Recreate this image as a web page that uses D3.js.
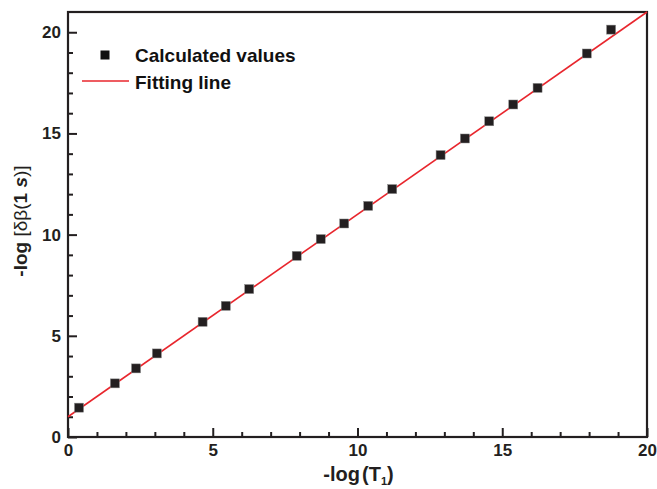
<!DOCTYPE html>
<html>
<head>
<meta charset="utf-8">
<script src="https://cdn.jsdelivr.net/npm/d3@7"></script>
<style>
  body { margin: 0; background: #fff; }
  text { font-family: "Liberation Sans", Arial, sans-serif; }
</style>
</head>
<body>
<script>
// calculated values
var calcX = [0.38, 1.62, 2.35, 3.07, 4.65, 5.45, 6.26, 7.90, 8.73, 9.54, 10.37, 11.20, 12.87, 13.71, 14.55, 15.38, 16.22, 17.92, 18.76];
var calcY = [1.45, 2.65, 3.39, 4.13, 5.69, 6.48, 7.31, 8.95, 9.78, 10.55, 11.42, 12.25, 13.93, 14.75, 15.60, 16.43, 17.25, 18.95, 20.13];

// fitting line end points
var fitX = [0, 20];
var fitY = [1.0, 21.0];

var xTicks = [0, 5, 10, 15, 20];
var yTicks = [0, 5, 10, 15, 20];

var width = 657, height = 489;
var margin = {top: 12, right: 10, bottom: 52, left: 68};

var svg = d3.select("body").append("svg")
    .attr("width", width)
    .attr("height", height);

var x = d3.scaleLinear().domain([0, 20]).range([margin.left, width - margin.right]);
var y = d3.scaleLinear().domain([0, 21]).range([height - margin.bottom, margin.top]);

var axisColor = "#231f20";

// minor ticks (inward)
var minorX = d3.range(0, 21, 1).filter(function(d) { return d % 5 != 0; });
var minorY = d3.range(0, 21, 1).filter(function(d) { return d % 5 != 0; });

var xAxis = d3.axisBottom(x).tickValues(xTicks).tickSize(-9).tickPadding(7).tickFormat(d3.format("d"));
var xMinor = d3.axisBottom(x).tickValues(minorX).tickSize(-5).tickFormat("");
var yAxis = d3.axisLeft(y).tickValues(yTicks).tickSize(-9).tickPadding(7).tickFormat(d3.format("d"));
var yMinor = d3.axisLeft(y).tickValues(minorY).tickSize(-5).tickFormat("");

function styleAxis(g) {
  g.select(".domain").remove();
  g.selectAll(".tick line").attr("stroke", axisColor).attr("stroke-width", 2);
  g.selectAll(".tick text")
    .attr("fill", axisColor)
    .style("font-size", "17px")
    .style("font-weight", "bold");
}

svg.append("g").attr("transform", "translate(0," + y(0) + ")").call(xMinor).call(styleAxis);
svg.append("g").attr("transform", "translate(0," + y(0) + ")").call(xAxis).call(styleAxis);
svg.append("g").attr("transform", "translate(" + x(0) + ",0)").call(yMinor).call(styleAxis);
svg.append("g").attr("transform", "translate(" + x(0) + ",0)").call(yAxis).call(styleAxis);

// frame
svg.append("rect")
    .attr("x", x(0))
    .attr("y", y(21))
    .attr("width", x(20) - x(0))
    .attr("height", y(0) - y(21))
    .attr("fill", "none")
    .attr("stroke", axisColor)
    .attr("stroke-width", 2.2);

// fitting line
var line = d3.line()
    .x(function(d) { return x(d[0]); })
    .y(function(d) { return y(d[1]); });

svg.append("path")
    .datum(d3.zip(fitX, fitY))
    .attr("d", line)
    .attr("fill", "none")
    .attr("stroke", "#e8262d")
    .attr("stroke-width", 1.6);

// calculated points
var ms = 9;
svg.append("g")
    .selectAll("rect")
    .data(d3.zip(calcX, calcY))
    .enter()
    .append("rect")
    .attr("x", function(d) { return x(d[0]) - ms / 2; })
    .attr("y", function(d) { return y(d[1]) - ms / 2; })
    .attr("width", ms)
    .attr("height", ms)
    .attr("fill", "#231f20")
    .attr("stroke", "#888")
    .attr("stroke-width", 0.5);

// legend
var legend = svg.append("g");
legend.append("rect")
    .attr("x", 105 - ms / 2)
    .attr("y", 55 - ms / 2)
    .attr("width", ms)
    .attr("height", ms)
    .attr("fill", "#111");
legend.append("text")
    .attr("x", 135)
    .attr("y", 62)
    .style("font-size", "19px")
    .style("font-weight", "bold")
    .attr("fill", "#111")
    .text("Calculated values");
legend.append("line")
    .attr("x1", 82).attr("x2", 129)
    .attr("y1", 81).attr("y2", 81)
    .attr("stroke", "#e8262d")
    .attr("stroke-width", 1.6);
legend.append("text")
    .attr("x", 135)
    .attr("y", 89)
    .style("font-size", "19px")
    .style("font-weight", "bold")
    .attr("fill", "#111")
    .text("Fitting line");

// x axis title
var xt = svg.append("text")
    .attr("x", (x(0) + x(20)) / 2 + 1)
    .attr("y", 481)
    .attr("text-anchor", "middle")
    .attr("fill", axisColor)
    .style("font-size", "20px")
    .style("font-weight", "bold");
xt.append("tspan").text("-log");
xt.append("tspan").attr("dx", 2).text("(T");
xt.append("tspan").attr("dy", 4).style("font-size", "11px").text("1");
xt.append("tspan").attr("dy", -4).text(")");

// y axis title
var yt = svg.append("text")
    .attr("transform", "translate(27," + 221 + ") rotate(-90)")
    .attr("text-anchor", "middle")
    .attr("fill", axisColor)
    .style("font-size", "19px")
    .style("font-weight", "bold");
yt.append("tspan").text("-log ");
yt.append("tspan").style("font-weight", "normal").text("[δβ(");
yt.append("tspan").text("1 ");
yt.append("tspan").style("font-style", "italic").text("s");
yt.append("tspan").style("font-weight", "normal").text(")]");
</script>
</body>
</html>
